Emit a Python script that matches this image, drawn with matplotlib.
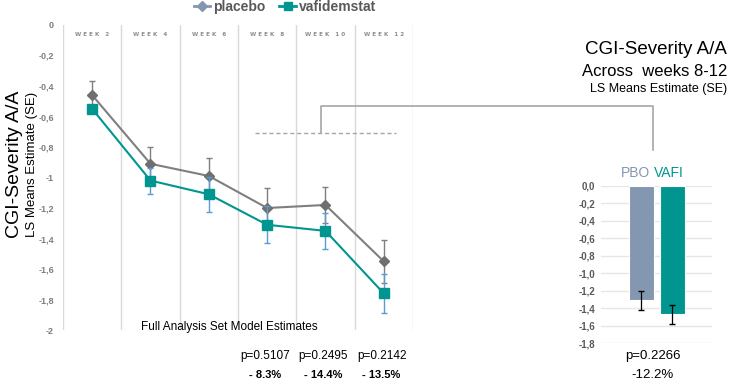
import numpy as np
import matplotlib
matplotlib.use("Agg")
import matplotlib.pyplot as plt
from matplotlib.lines import Line2D

plt.rcParams['font.family'] = ['Liberation Sans', 'DejaVu Sans']

# data
weeks = ["WEEK 2", "WEEK 4", "WEEK 6", "WEEK 8", "WEEK 10", "WEEK 12"]
placebo = [-0.46, -0.91, -0.99, -1.20, -1.18, -1.55]
placebo_se = [0.09, 0.11, 0.12, 0.13, 0.12, 0.14]
vafi = [-0.55, -1.02, -1.11, -1.31, -1.35, -1.76]
vafi_se = [0.0, 0.085, 0.115, 0.12, 0.12, 0.13]
main_ticks = [0, -0.2, -0.4, -0.6, -0.8, -1, -1.2, -1.4, -1.6, -1.8, -2]
main_ticklabels = ["0", "-0,2", "-0,4", "-0,6", "-0,8", "-1", "-1,2", "-1,4", "-1,6", "-1,8", "-2"]
pvals = ["p=0.5107", "p=0.2495", "p=0.2142"]
diffs = ["- 8.3%", "- 14.4%", "- 13.5%"]
bar_labels = ["PBO", "VAFI"]
bar_vals = [-1.31, -1.47]
bar_se = [0.107, 0.107]
bar_ticks = [0, -0.2, -0.4, -0.6, -0.8, -1.0, -1.2, -1.4, -1.6, -1.8]
bar_ticklabels = ["0,0", "-0,2", "-0,4", "-0,6", "-0,8", "-1,0", "-1,2", "-1,4", "-1,6", "-1,8"]

GREY = "#7f7f7f"
PBO_C = "#8497b0"
TEAL = "#00968f"
ERR_BLUE = "#5b9bd5"

fig = plt.figure(figsize=(7.32, 3.84), dpi=100)

# main line chart
ax = fig.add_axes([0.0861, 0.1406, 0.478, 0.7943])
x = np.arange(len(weeks))
ax.errorbar(x, placebo, yerr=placebo_se, color=GREY, marker='D', ms=5,
            mfc="#6f6f6f", mec="#6f6f6f", lw=1.5, ecolor=GREY, elinewidth=1,
            capsize=2.5, zorder=3)
ax.errorbar(x, vafi, yerr=vafi_se, color=TEAL, marker='s', ms=7,
            mfc=TEAL, mec=TEAL, lw=1.5, ecolor=ERR_BLUE, elinewidth=1,
            capsize=2.5, zorder=4)
ax.set_xlim(-0.5, len(weeks) - 0.5)
ax.set_ylim(-2, 0)
ax.set_yticks(main_ticks)
ax.set_yticklabels(main_ticklabels, fontweight='bold')
ax.tick_params(axis='y', length=0, labelsize=6.5, labelcolor="#7f7f7f", pad=6.5)
ax.set_xticks([])
for s in ax.spines.values():
    s.set_visible(False)
for b in np.arange(-0.5, len(weeks), 1.0):
    ax.axvline(b, color="#d9d9d9", lw=1, zorder=1)
for i, w in enumerate(weeks):
    ax.text(i, -0.06, " ".join(w), ha='center', va='center', fontsize=4.1,
            color="#8c8c8c", fontweight='bold', family='DejaVu Sans')
ax.text(2.35, -2.02, "Full Analysis Set Model Estimates", ha='center', va='bottom',
        fontsize=8.5, color="black")

# p values under weeks 8-12
for i, (p, d) in enumerate(zip(pvals, diffs)):
    xf = (63 + (3 + i + 0.5) * 58.33) / 732
    fig.text(xf - 0.003, 1 - 356 / 384, p, ha='center', va='center', fontsize=8.5)
    fig.text(xf - 0.003, 1 - 375 / 384, d, ha='center', va='center', fontsize=8,
             fontweight='bold')

# axis titles
fig.text(0.0195, 0.573, "CGI-Severity A/A", rotation=90, ha='center', va='center', fontsize=14)
fig.text(0.0435, 0.573, "LS Means Estimate (SE)", rotation=90, ha='center', va='center', fontsize=9.5)

# legend
handles = [Line2D([], [], color=PBO_C, marker='D', ms=5, lw=2),
           Line2D([], [], color=TEAL, marker='s', ms=6, lw=2)]
leg = fig.legend(handles, ["placebo", "vafidemstat"], ncol=2, loc='center',
                 bbox_to_anchor=(0.389, 0.983), frameon=False, fontsize=10,
                 handlelength=1.2, handletextpad=0.2, columnspacing=1.0)
for t in leg.get_texts():
    t.set_color("#595959")
    t.set_fontweight('bold')

# dashed bracket and connector
fig.add_artist(Line2D([255 / 732, 396 / 732], [1 - 133 / 384] * 2, color="#a6a6a6",
                      lw=1, ls=(0, (3, 2))))
fig.add_artist(Line2D([320.5 / 732, 320.5 / 732, 652.5 / 732, 652.5 / 732],
                      [1 - 133 / 384, 1 - 106 / 384, 1 - 106 / 384, 1 - 150 / 384],
                      color="#a6a6a6", lw=1.2))

# right panel titles
fig.text(0.993, 1 - 50 / 384, "CGI-Severity A/A", ha='right', va='center', fontsize=13.5)
fig.text(0.993, 1 - 72 / 384, "Across  weeks 8-12", ha='right', va='center', fontsize=12)
fig.text(0.993, 1 - 89 / 384, "LS Means Estimate (SE)", ha='right', va='center', fontsize=9)

# bar chart
bx = fig.add_axes([0.821, 0.106, 0.1516, 0.4104])
bx.bar([0, 1], bar_vals, width=0.8, color=[PBO_C, TEAL], edgecolor='white', lw=0.8,
       zorder=3, yerr=bar_se, capsize=2.5, error_kw=dict(ecolor='black', elinewidth=0.9))
bx.set_xlim(-1.3, 2.28)
bx.set_ylim(-1.8, 0)
bx.set_yticks(bar_ticks)
bx.set_yticklabels(bar_ticklabels, fontweight='bold')
bx.tick_params(axis='y', length=0, labelsize=7, labelcolor="#595959", pad=4)
bx.set_xticks([])
bx.grid(axis='y', color="#e6e6e6", lw=1, zorder=0)
for s in bx.spines.values():
    s.set_visible(False)
bx.text(0.3, 0.07, bar_labels[0], ha='right', va='bottom', fontsize=10, color=PBO_C)
bx.text(0.4, 0.07, bar_labels[1], ha='left', va='bottom', fontsize=10, color=TEAL)
fig.text(653 / 732, 1 - 356 / 384, "p=0.2266", ha='center', va='center', fontsize=9.5)
fig.text(653 / 732, 1 - 375 / 384, "-12.2%", ha='center', va='center', fontsize=9.5)

fig.savefig("out.png", dpi=100)
